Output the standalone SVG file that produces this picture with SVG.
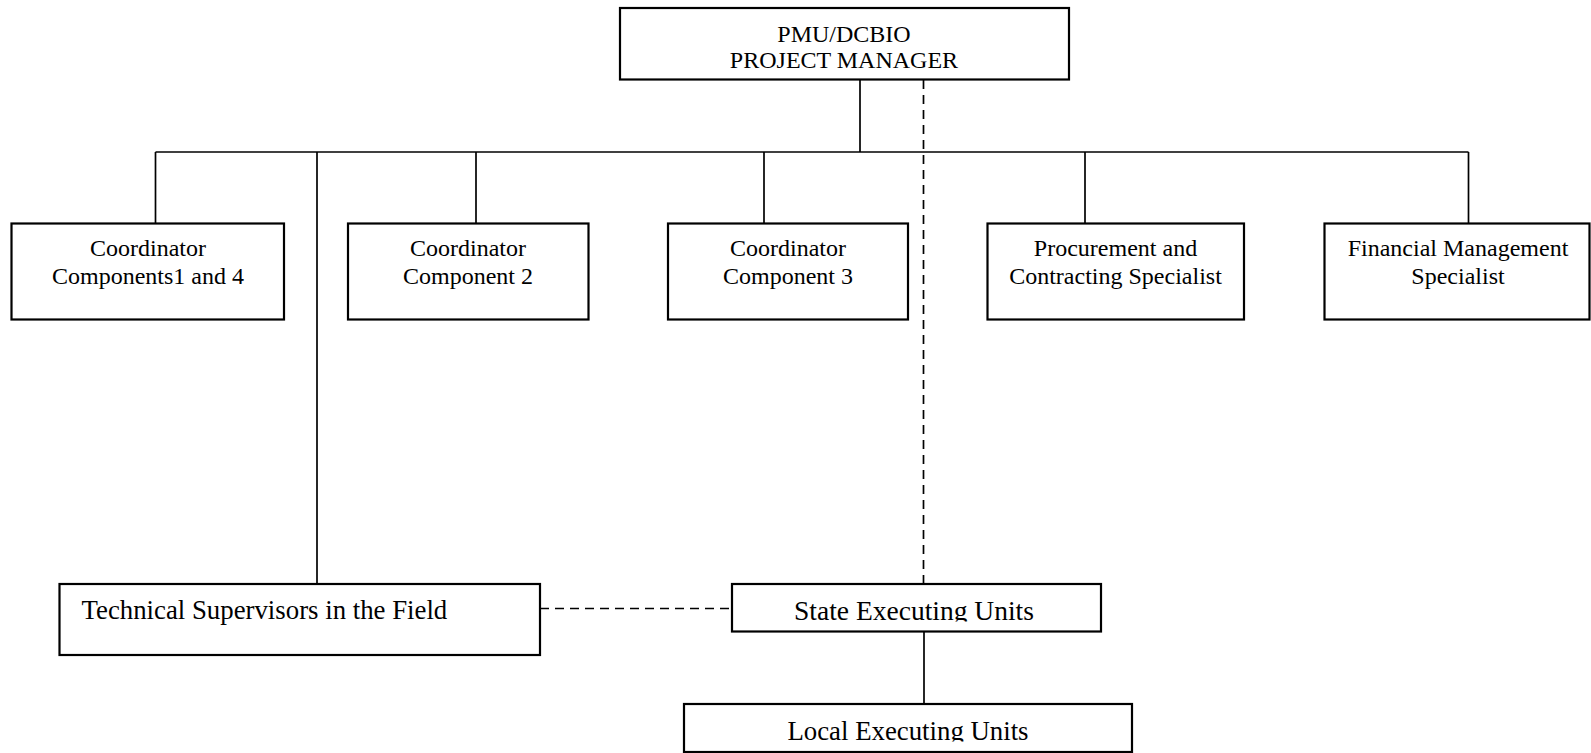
<svg xmlns="http://www.w3.org/2000/svg" width="1591" height="753" viewBox="0 0 1591 753">
<style>
.box{fill:#fff;stroke:#000;stroke-width:2.2}
.ln{fill:none;stroke:#000;stroke-width:1.7}
.dash{fill:none;stroke:#000;stroke-width:1.7;stroke-dasharray:9 6}
.t{font-family:"Liberation Serif","Times New Roman",serif;font-size:24px;fill:#000;text-anchor:middle}
.tl{font-family:"Liberation Serif","Times New Roman",serif;font-size:26.8px;fill:#000}
</style>
<defs>
<clipPath id="clipState"><rect x="732" y="584" width="369" height="37.5"/></clipPath>
<clipPath id="clipLocal"><rect x="684" y="704" width="448" height="37.5"/></clipPath>
</defs>
<rect width="1591" height="753" fill="#fff"/>
<g id="connectors">
<line class="ln" x1="860" y1="79.5" x2="860" y2="152"/>
<line class="ln" x1="155.5" y1="152" x2="1468.5" y2="152"/>
<line class="ln" x1="155.5" y1="152" x2="155.5" y2="223.5"/>
<line class="ln" x1="317" y1="152" x2="317" y2="584"/>
<line class="ln" x1="476" y1="152" x2="476" y2="223.5"/>
<line class="ln" x1="764" y1="152" x2="764" y2="223.5"/>
<line class="ln" x1="1085" y1="152" x2="1085" y2="223.5"/>
<line class="ln" x1="1468.5" y1="152" x2="1468.5" y2="223.5"/>
<line class="dash" x1="923.5" y1="80" x2="923.5" y2="584"/>
<line class="dash" x1="540" y1="608.5" x2="732" y2="608.5"/>
<line class="ln" x1="924" y1="631.5" x2="924" y2="704"/>
</g>
<g id="pm">
<rect class="box" x="620" y="8" width="449" height="71.5"/>
<text class="t" x="844" y="42">PMU/DCBIO</text>
<text class="t" x="844" y="67.5">PROJECT MANAGER</text>
</g>
<g id="coord14">
<rect class="box" x="11.5" y="223.5" width="272.5" height="96"/>
<text class="t" x="148" y="256">Coordinator</text>
<text class="t" x="148" y="284">Components1 and 4</text>
</g>
<g id="coord2">
<rect class="box" x="348" y="223.5" width="240.5" height="96"/>
<text class="t" x="468" y="256">Coordinator</text>
<text class="t" x="468" y="284">Component 2</text>
</g>
<g id="coord3">
<rect class="box" x="668" y="223.5" width="240" height="96"/>
<text class="t" x="788" y="256">Coordinator</text>
<text class="t" x="788" y="284">Component 3</text>
</g>
<g id="procurement">
<rect class="box" x="987.5" y="223.5" width="256.5" height="96"/>
<text class="t" x="1115.5" y="256">Procurement and</text>
<text class="t" x="1115.5" y="284">Contracting Specialist</text>
</g>
<g id="financial">
<rect class="box" x="1324.5" y="223.5" width="265" height="96"/>
<text class="t" x="1458" y="256">Financial Management</text>
<text class="t" x="1458" y="284">Specialist</text>
</g>
<g id="technical">
<rect class="box" x="59.5" y="584" width="480.5" height="71"/>
<text class="tl" x="81.5" y="619">Technical Supervisors in the Field</text>
</g>
<g id="state">
<rect class="box" x="732" y="584" width="369" height="47.5"/>
<text class="tl" x="914" y="620" text-anchor="middle" clip-path="url(#clipState)" style="font-size:27.5px">State Executing Units</text>
</g>
<g id="local">
<rect class="box" x="684" y="704" width="448" height="48"/>
<text class="tl" x="908" y="740" text-anchor="middle" clip-path="url(#clipLocal)">Local Executing Units</text>
</g>
</svg>
